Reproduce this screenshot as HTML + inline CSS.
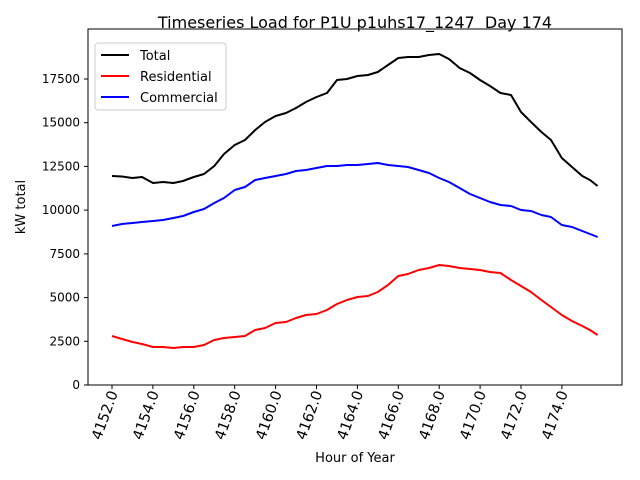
<!DOCTYPE html>
<html><head><style>body{margin:0;background:#fff}svg{display:block}</style></head><body>
<svg width="640" height="480" xmlns="http://www.w3.org/2000/svg" font-family="DejaVu Sans, Liberation Sans, sans-serif">
<rect width="640" height="480" fill="#fff"/>
<text x="355" y="28" font-size="16" text-anchor="middle" xml:space="preserve">Timeseries Load for P1U p1uhs17_1247  Day 174</text>
<g fill="none" stroke-width="2" stroke-linejoin="round">
<polyline stroke="#000" points="112,176 122,176.5 132.5,178 142,177 153,183 163,182 173.4,183 183,181 193.8,177 204,174 214.3,166 224,154 234.7,145 245,140 255.2,130 265,122 275.6,116 286,113 296,108 306,102 316.5,97 327,93 337,80 347,79 357.4,76 368,75 377.8,72 388,65 398.3,58 408,57 418.7,57 429,55 439.2,54 449,59 459.6,68 470,73 480,80 490,86 500.5,93 511,95 521,112 531,122 541.4,132 551,140 561.8,158 572,167 582.3,176 590,180 597.6,186"/>
<polyline stroke="#00f" points="112,226 122,224 132.5,223 142,222 153,221 163,220 173.4,218 183,216 193.8,212 204,209 214.3,203 224,198 234.7,190 245,187 255.2,180 265,178 275.6,176 286,174 296,171 306,170 316.5,168 327,166 337,166 347,165 357.4,165 368,164 377.8,163 388,165 398.3,166 408,167 418.7,170 429,173 439.2,178 449,182 459.6,188 470,194 480,198 490,202 500.5,205 511,206 521,210 531,211 541.4,215 551,217 561.8,225 572,227 582.3,231 590,234 597.6,237"/>
<polyline stroke="#f00" points="112,336 122,339 132.5,342 142,344 153,347 163,347 173.4,348 183,347 193.8,347 204,345 214.3,340 224,338 234.7,337 245,336 255.2,330 265,328 275.6,323 286,322 296,318 306,315 316.5,314 327,310 337,304 347,300 357.4,297 368,296 377.8,292 388,285 398.3,276 408,274 418.7,270 429,268 439.2,265 449,266 459.6,268 470,269 480,270 490,272 500.5,273 511,280 521,286 531,292 541.4,300 551,307 561.8,315 572,321 582.3,326 590,330 597.6,335"/>
</g>
<rect x="88" y="29" width="534" height="356" fill="none" stroke="#000" stroke-width="1"/>
<g font-size="12" text-anchor="end">
<g stroke="#000"><line x1="84" y1="385" x2="88" y2="385"/><line x1="84" y1="341.3" x2="88" y2="341.3"/><line x1="84" y1="297.6" x2="88" y2="297.6"/><line x1="84" y1="253.9" x2="88" y2="253.9"/><line x1="84" y1="210.1" x2="88" y2="210.1"/><line x1="84" y1="166.4" x2="88" y2="166.4"/><line x1="84" y1="122.7" x2="88" y2="122.7"/><line x1="84" y1="79" x2="88" y2="79"/></g>
<text x="80" y="389">0</text><text x="80" y="345.3">2500</text><text x="80" y="301.6">5000</text><text x="80" y="257.9">7500</text><text x="80" y="214.1">10000</text><text x="80" y="170.4">12500</text><text x="80" y="126.7">15000</text><text x="80" y="83">17500</text>
</g>
<g font-size="14.5" text-anchor="end">
<g stroke="#000">
<line x1="112" y1="385" x2="112" y2="389"/><line x1="152.9" y1="385" x2="152.9" y2="389"/><line x1="193.8" y1="385" x2="193.8" y2="389"/><line x1="234.7" y1="385" x2="234.7" y2="389"/><line x1="275.6" y1="385" x2="275.6" y2="389"/><line x1="316.5" y1="385" x2="316.5" y2="389"/><line x1="357.4" y1="385" x2="357.4" y2="389"/><line x1="398.3" y1="385" x2="398.3" y2="389"/><line x1="439.2" y1="385" x2="439.2" y2="389"/><line x1="480.1" y1="385" x2="480.1" y2="389"/><line x1="521" y1="385" x2="521" y2="389"/><line x1="561.9" y1="385" x2="561.9" y2="389"/></g>
<text transform="translate(118,393) rotate(-70)">4152.0</text>
<text transform="translate(159,393) rotate(-70)">4154.0</text>
<text transform="translate(200,393) rotate(-70)">4156.0</text>
<text transform="translate(241,393) rotate(-70)">4158.0</text>
<text transform="translate(282,393) rotate(-70)">4160.0</text>
<text transform="translate(322.5,393) rotate(-70)">4162.0</text>
<text transform="translate(363.4,393) rotate(-70)">4164.0</text>
<text transform="translate(404.3,393) rotate(-70)">4166.0</text>
<text transform="translate(445.2,393) rotate(-70)">4168.0</text>
<text transform="translate(486.1,393) rotate(-70)">4170.0</text>
<text transform="translate(527,393) rotate(-70)">4172.0</text>
<text transform="translate(568,393) rotate(-70)">4174.0</text>
</g>
<text x="355" y="462" font-size="13" text-anchor="middle">Hour of Year</text>
<text transform="translate(25,207) rotate(-90)" font-size="13" text-anchor="middle">kW total</text>
<rect x="95" y="43" width="131" height="67" rx="3" fill="#fff" stroke="#ccc"/>
<g stroke-width="2"><line x1="101" y1="55" x2="129" y2="55" stroke="#000"/><line x1="101" y1="76" x2="129" y2="76" stroke="#f00"/><line x1="101" y1="97" x2="129" y2="97" stroke="#00f"/></g>
<g font-size="13"><text x="140" y="60">Total</text><text x="140" y="81">Residential</text><text x="140" y="102">Commercial</text></g>
</svg>
</body></html>
